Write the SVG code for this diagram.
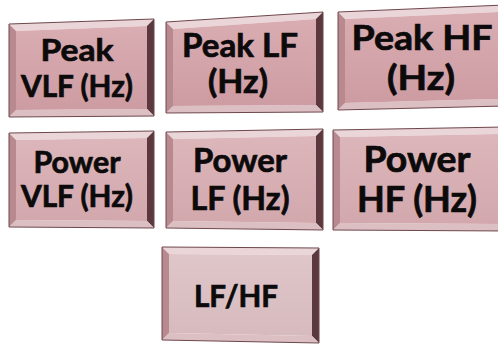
<svg xmlns="http://www.w3.org/2000/svg" width="498" height="345" viewBox="0 0 498 345">
<style>
.bt{fill:#ead5d8}
.bl{fill:#b88a90}
.br{fill:#5a383d}
.bb{fill:#dcbfc3}
.edge{fill:none;stroke:#6e474c;stroke-width:1}
.f1{fill:url(#g1)}
.f2{fill:url(#g2)}
.f3{fill:url(#g3)}
.lbl{font-family:Lato,"Liberation Sans",sans-serif;font-weight:700;fill:#0c0a0a;stroke:#0c0a0a;stroke-width:0.7;text-anchor:middle}
</style>
<defs>
<linearGradient id="g1" x1="0" y1="0" x2="0" y2="1"><stop offset="0" stop-color="#d9adb2"/><stop offset="1" stop-color="#cd9ca2"/></linearGradient>
<linearGradient id="g2" x1="0" y1="0" x2="0" y2="1"><stop offset="0" stop-color="#dcb6ba"/><stop offset="1" stop-color="#d2a8ad"/></linearGradient>
<linearGradient id="g3" x1="0" y1="0" x2="0" y2="1"><stop offset="0" stop-color="#dfc6c9"/><stop offset="1" stop-color="#d6babe"/></linearGradient>
</defs>
<rect width="498" height="345" fill="#ffffff"/>

<g id="peak-vlf">
<polygon class="bt" points="9,24 154,19 147,26 16,31"/>
<polygon class="br" points="154,19 154,116 147,109 147,26"/>
<polygon class="bb" points="154,116 9,117 16,110 147,109"/>
<polygon class="bl" points="9,117 9,24 16,31 16,110"/>
<polygon class="f1" points="16,31 147,26 147,109 16,110"/>
<polygon class="edge" points="9,24 154,19 154,116 9,117"/>
<text class="lbl" x="77" y="61" font-size="31" textLength="73" lengthAdjust="spacingAndGlyphs">Peak</text>
<text class="lbl" x="77" y="97" font-size="31" textLength="112" lengthAdjust="spacingAndGlyphs">VLF (Hz)</text>
</g>

<g id="peak-lf">
<polygon class="bt" points="166,22 323,12 316,19 173,29"/>
<polygon class="br" points="323,12 323,112 316,105 316,19"/>
<polygon class="bb" points="323,112 166,113 173,106 316,105"/>
<polygon class="bl" points="166,113 166,22 173,29 173,106"/>
<polygon class="f1" points="173,29 316,19 316,105 173,106"/>
<polygon class="edge" points="166,22 323,12 323,112 166,113"/>
<text class="lbl" x="240" y="57" font-size="32" textLength="116" lengthAdjust="spacingAndGlyphs">Peak LF</text>
<text class="lbl" x="238" y="93" font-size="32" textLength="60" lengthAdjust="spacingAndGlyphs">(Hz)</text>
</g>

<g id="peak-hf">
<polygon class="bt" points="338,12 505,5 498,12 345,19"/>
<polygon class="br" points="505,5 505,106 498,99 498,12"/>
<polygon class="bb" points="505,106 338,110 345,103 498,99"/>
<polygon class="bl" points="338,110 338,12 345,19 345,103"/>
<polygon class="f1" points="345,19 498,12 498,99 345,103"/>
<polygon class="edge" points="338,12 505,5 505,106 338,110"/>
<text class="lbl" x="422" y="50" font-size="35" textLength="141" lengthAdjust="spacingAndGlyphs">Peak HF</text>
<text class="lbl" x="421" y="90" font-size="35" textLength="68" lengthAdjust="spacingAndGlyphs">(Hz)</text>
</g>

<g id="power-vlf">
<polygon class="bt" points="9,133 154,131 147,138 16,140"/>
<polygon class="br" points="154,131 154,228 147,221 147,138"/>
<polygon class="bb" points="154,228 9,227 16,220 147,221"/>
<polygon class="bl" points="9,227 9,133 16,140 16,220"/>
<polygon class="f2" points="16,140 147,138 147,221 16,220"/>
<polygon class="edge" points="9,133 154,131 154,228 9,227"/>
<text class="lbl" x="77" y="173" font-size="30" textLength="87" lengthAdjust="spacingAndGlyphs">Power</text>
<text class="lbl" x="77" y="207" font-size="30" textLength="112" lengthAdjust="spacingAndGlyphs">VLF (Hz)</text>
</g>

<g id="power-lf">
<polygon class="bt" points="166,132 323,129 316,136 173,139"/>
<polygon class="br" points="323,129 323,230 316,223 316,136"/>
<polygon class="bb" points="323,230 166,228 173,221 316,223"/>
<polygon class="bl" points="166,228 166,132 173,139 173,221"/>
<polygon class="f2" points="173,139 316,136 316,223 173,221"/>
<polygon class="edge" points="166,132 323,129 323,230 166,228"/>
<text class="lbl" x="240" y="172" font-size="33" textLength="94" lengthAdjust="spacingAndGlyphs">Power</text>
<text class="lbl" x="240" y="210" font-size="33" textLength="99" lengthAdjust="spacingAndGlyphs">LF (Hz)</text>
</g>

<g id="power-hf">
<polygon class="bt" points="333,130 505,127 498,134 340,137"/>
<polygon class="br" points="505,127 505,231 498,224 498,134"/>
<polygon class="bb" points="505,231 333,230 340,223 498,224"/>
<polygon class="bl" points="333,230 333,130 340,137 340,223"/>
<polygon class="f2" points="340,137 498,134 498,224 340,223"/>
<polygon class="edge" points="333,130 505,127 505,231 333,230"/>
<text class="lbl" x="417" y="172" font-size="36" textLength="107" lengthAdjust="spacingAndGlyphs">Power</text>
<text class="lbl" x="417" y="212" font-size="36" textLength="120" lengthAdjust="spacingAndGlyphs">HF (Hz)</text>
</g>

<g id="lf-hf">
<polygon class="bt" points="162,247 319,248 312,255 169,254"/>
<polygon class="br" points="319,248 319,343 312,336 312,255"/>
<polygon class="bb" points="319,343 162,340 169,333 312,336"/>
<polygon class="bl" points="162,340 162,247 169,254 169,333"/>
<polygon class="f3" points="169,254 312,255 312,336 169,333"/>
<polygon class="edge" points="162,247 319,248 319,343 162,340"/>
<text class="lbl" x="236" y="307" font-size="31" textLength="84" lengthAdjust="spacingAndGlyphs">LF/HF</text>
</g>

<g id="connectors"></g>
</svg>
